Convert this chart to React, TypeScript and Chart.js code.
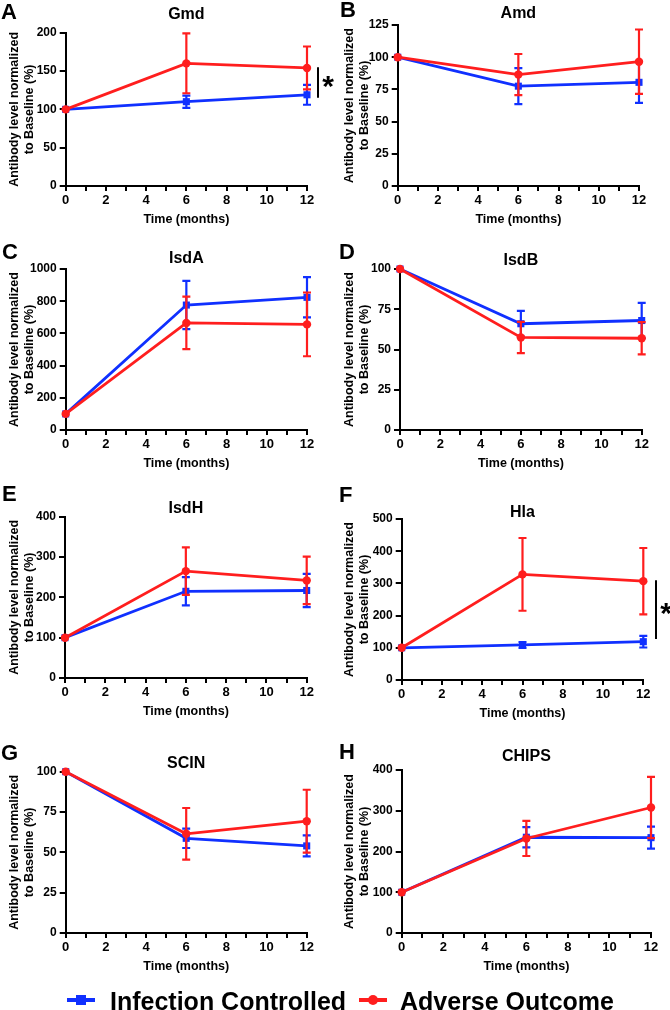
import React, { useEffect, useRef } from 'react';
import { Chart, registerables } from 'chart.js';

Chart.register(...registerables);

const BLUE = '#1030ff';
const RED = '#ff1e1e';
const FONT = '"Liberation Sans", Arial, Helvetica, sans-serif';

const seriesNames = ['Infection Controlled', 'Adverse Outcome'];
const monthPoints = [0, 6, 12];
const monthTicks = [0, 1, 2, 3, 4, 5, 6, 7, 8, 9, 10, 11, 12];
const yAxisTitle = ['Antibody level normalized', 'to Baseline (%)'];
const xAxisTitle = 'Time (months)';

// A - Gmd
const gmdTicks = [0, 50, 100, 150, 200];
const gmdControlled = [100, 110, 119];
const gmdControlledSem = [0, 8, 13];
const gmdAdverse = [100, 160, 154];
const gmdAdverseSem = [0, 39, 28];
const gmdSignificance = [115, 155];

// B - Amd
const amdTicks = [0, 25, 50, 75, 100, 125];
const amdControlled = [100, 77.5, 80.5];
const amdControlledSem = [0, 14, 16];
const amdAdverse = [100, 86.5, 96.5];
const amdAdverseSem = [0, 16, 25];

// C - IsdA
const isdATicks = [0, 200, 400, 600, 800, 1000];
const isdAControlled = [100, 776, 824];
const isdAControlledSem = [0, 150, 125];
const isdAAdverse = [100, 665, 656];
const isdAAdverseSem = [0, 163, 198];

// D - IsdB
const isdBTicks = [0, 25, 50, 75, 100];
const isdBControlled = [100, 66, 68];
const isdBControlledSem = [0, 8, 11];
const isdBAdverse = [100, 57.5, 57];
const isdBAdverseSem = [0, 9.7, 10];

// E - IsdH
const isdHTicks = [0, 100, 200, 300, 400];
const isdHControlled = [100, 215, 217];
const isdHControlledSem = [0, 35, 41];
const isdHAdverse = [100, 265, 242];
const isdHAdverseSem = [0, 59, 59];

// F - Hla
const hlaTicks = [0, 100, 200, 300, 400, 500];
const hlaControlled = [100, 109, 119];
const hlaControlledSem = [0, 9, 18];
const hlaAdverse = [100, 328, 307];
const hlaAdverseSem = [0, 113, 103];
const hlaSignificance = [127, 310];

// G - SCIN
const scinTicks = [0, 25, 50, 75, 100];
const scinControlled = [100, 58.7, 54];
const scinControlledSem = [0, 6, 6.5];
const scinAdverse = [100, 61.5, 69.3];
const scinAdverseSem = [0, 16, 19.5];

// H - CHIPS
const chipsTicks = [0, 100, 200, 300, 400];
const chipsControlled = [100, 235, 234];
const chipsControlledSem = [0, 25, 27];
const chipsAdverse = [100, 232, 308];
const chipsAdverseSem = [0, 43, 75];

type PanelDef = {
  letter: string; title: string; yTicks: number[];
  ctrl: number[]; ctrlSem: number[]; adv: number[]; advSem: number[];
  sig?: number[];
  x: number; y: number; left: number; right: number; top: number; bottom: number;
  titleY: number; letterX: number; letterY: number; sigOffset?: number;
};

const panels: PanelDef[] = [
  { letter: 'A', title: 'Gmd', yTicks: gmdTicks, ctrl: gmdControlled, ctrlSem: gmdControlledSem, adv: gmdAdverse, advSem: gmdAdverseSem, sig: gmdSignificance,
    x: 0, y: 0, left: 65.7, right: 307, top: 32.7, bottom: 186, titleY: 15, letterX: 1, letterY: 18.5, sigOffset: 11 },
  { letter: 'B', title: 'Amd', yTicks: amdTicks, ctrl: amdControlled, ctrlSem: amdControlledSem, adv: amdAdverse, advSem: amdAdverseSem,
    x: 335, y: 0, left: 62.7, right: 304, top: 25, bottom: 186, titleY: 13.5, letterX: 5, letterY: 17, },
  { letter: 'C', title: 'IsdA', yTicks: isdATicks, ctrl: isdAControlled, ctrlSem: isdAControlledSem, adv: isdAAdverse, advSem: isdAAdverseSem,
    x: 0, y: 240, left: 65.7, right: 307, top: 29, bottom: 190, titleY: 18.3, letterX: 2, letterY: 18.5 },
  { letter: 'D', title: 'IsdB', yTicks: isdBTicks, ctrl: isdBControlled, ctrlSem: isdBControlledSem, adv: isdBAdverse, advSem: isdBAdverseSem,
    x: 335, y: 240, left: 65, right: 306.7, top: 29, bottom: 190, titleY: 20.5, letterX: 4, letterY: 18.5 },
  { letter: 'E', title: 'IsdH', yTicks: isdHTicks, ctrl: isdHControlled, ctrlSem: isdHControlledSem, adv: isdHAdverse, advSem: isdHAdverseSem,
    x: 0, y: 480, left: 65, right: 306.7, top: 36.7, bottom: 197.3, titleY: 28.3, letterX: 2, letterY: 20.5 },
  { letter: 'F', title: 'Hla', yTicks: hlaTicks, ctrl: hlaControlled, ctrlSem: hlaControlledSem, adv: hlaAdverse, advSem: hlaAdverseSem, sig: hlaSignificance,
    x: 335, y: 480, left: 66.7, right: 308.3, top: 39, bottom: 200, titleY: 32.3, letterX: 4, letterY: 21.5, sigOffset: 12.7 },
  { letter: 'G', title: 'SCIN', yTicks: scinTicks, ctrl: scinControlled, ctrlSem: scinControlledSem, adv: scinAdverse, advSem: scinAdverseSem,
    x: 0, y: 720, left: 65.7, right: 306.7, top: 51.7, bottom: 212.3, titleY: 43.3, letterX: 1, letterY: 39.5 },
  { letter: 'H', title: 'CHIPS', yTicks: chipsTicks, ctrl: chipsControlled, ctrlSem: chipsControlledSem, adv: chipsAdverse, advSem: chipsAdverseSem,
    x: 335, y: 720, left: 66.7, right: 316, top: 50, bottom: 212.3, titleY: 36.7, letterX: 4, letterY: 38.5 },
];

const PANEL_W = 335;
const XAXIS_H = 42;

function Panel({ p }: { p: PanelDef }) {
  const ref = useRef<HTMLCanvasElement>(null);
  const height = Math.ceil(p.bottom + XAXIS_H);

  useEffect(() => {
    const canvas = ref.current;
    if (!canvas) return;
    const sems = [p.advSem, p.ctrlSem];

    const decor = {
      id: 'decor',
      afterDatasetDraw(chart: any, args: any) {
        const ds = chart.data.datasets[args.index];
        const sem = sems[args.index];
        const xs = chart.scales.x;
        const ys = chart.scales.y;
        const ctx = chart.ctx;
        ctx.save();
        ctx.strokeStyle = ds.borderColor;
        ctx.lineWidth = 2.2;
        ds.data.forEach((pt: any, i: number) => {
          const e = sem[i];
          if (!e) return;
          const x = xs.getPixelForValue(pt.x);
          const y1 = ys.getPixelForValue(pt.y + e);
          const y2 = ys.getPixelForValue(pt.y - e);
          ctx.beginPath();
          ctx.moveTo(x, y1); ctx.lineTo(x, y2);
          ctx.moveTo(x - 4, y1); ctx.lineTo(x + 4, y1);
          ctx.moveTo(x - 4, y2); ctx.lineTo(x + 4, y2);
          ctx.stroke();
        });
        ctx.restore();
      },
      afterDraw(chart: any) {
        const ctx = chart.ctx;
        const ca = chart.chartArea;
        ctx.save();
        ctx.fillStyle = '#000';
        ctx.font = `bold 16px ${FONT}`;
        ctx.textAlign = 'center';
        ctx.textBaseline = 'middle';
        ctx.fillText(p.title, (ca.left + ca.right) / 2, p.titleY);
        ctx.font = `bold 22px ${FONT}`;
        ctx.textAlign = 'left';
        ctx.textBaseline = 'alphabetic';
        ctx.fillText(p.letter, p.letterX, p.letterY);
        if (p.sig) {
          const ys = chart.scales.y;
          const x = ca.right + (p.sigOffset || 11);
          const y1 = ys.getPixelForValue(p.sig[0]);
          const y2 = ys.getPixelForValue(p.sig[1]);
          ctx.strokeStyle = '#000';
          ctx.lineWidth = 2;
          ctx.beginPath();
          ctx.moveTo(x, y1); ctx.lineTo(x, y2);
          ctx.stroke();
          ctx.font = `bold 30px ${FONT}`;
          ctx.textAlign = 'center';
          ctx.fillText('*', x + 10, (y1 + y2) / 2 + 13);
        }
        ctx.restore();
      },
    };

    const yMax = p.yTicks[p.yTicks.length - 1];
    const chart = new Chart(canvas, {
      type: 'line',
      data: {
        datasets: [
          {
            label: seriesNames[1],
            data: monthPoints.map((m, i) => ({ x: m, y: p.adv[i] })),
            borderColor: RED, backgroundColor: RED,
            borderWidth: 2.8, pointStyle: 'circle', pointRadius: 4.2, pointBorderWidth: 0,
            tension: 0, clip: false, order: 0,
          },
          {
            label: seriesNames[0],
            data: monthPoints.map((m, i) => ({ x: m, y: p.ctrl[i] })),
            borderColor: BLUE, backgroundColor: BLUE,
            borderWidth: 2.8, pointStyle: 'rect', pointRadius: 5, pointBorderWidth: 0,
            tension: 0, clip: false, order: 1,
          },
        ],
      },
      options: {
        responsive: false,
        animation: false,
        devicePixelRatio: 1,
        events: [],
        layout: { padding: { left: 0, top: p.top, right: PANEL_W - p.right, bottom: 0 } },
        plugins: { legend: { display: false }, title: { display: false }, tooltip: { enabled: false } },
        scales: {
          x: {
            type: 'linear', min: 0, max: 12,
            afterBuildTicks: (s: any) => { s.ticks = monthTicks.map((v) => ({ value: v })); },
            afterFit: (s: any) => { s.height = XAXIS_H; },
            ticks: {
              autoSkip: false, maxRotation: 0, color: '#000', padding: 2,
              font: { family: FONT, size: 13, weight: 'bold' },
              callback: (v: any) => (Number(v) % 2 === 0 ? String(v) : ''),
            },
            grid: { display: true, drawOnChartArea: false, drawTicks: true, tickLength: 5, color: '#000', lineWidth: 2 },
            border: { display: true, color: '#000', width: 2 },
            title: { display: true, text: xAxisTitle, color: '#000', font: { family: FONT, size: 12.5, weight: 'bold', lineHeight: 1.2 }, padding: { top: 0, bottom: 0.5 } },
          },
          y: {
            type: 'linear', min: 0, max: yMax,
            afterBuildTicks: (s: any) => { s.ticks = p.yTicks.map((v) => ({ value: v })); },
            afterFit: (s: any) => { s.width = p.left; },
            ticks: {
              color: '#000', padding: 3, font: { family: FONT, size: 12, weight: 'bold' },
              callback: (v: any) => String(v),
            },
            grid: { display: true, drawOnChartArea: false, drawTicks: true, tickLength: 6, color: '#000', lineWidth: 2 },
            border: { display: true, color: '#000', width: 2 },
            title: { display: true, text: yAxisTitle, color: '#000', font: { family: FONT, size: 12.5, weight: 'bold', lineHeight: 1.2 }, padding: { top: 7.5, bottom: 0 } },
          },
        },
      } as any,
      plugins: [decor],
    });
    return () => chart.destroy();
  }, []);

  return (
    <canvas
      ref={ref}
      width={PANEL_W}
      height={height}
      style={{ position: 'absolute', left: p.x, top: p.y, width: PANEL_W, height }}
    />
  );
}

function LegendMarker({ color, shape, left }: { color: string; shape: 'rect' | 'circle'; left: number }) {
  return (
    <div style={{ position: 'absolute', left, top: 995, width: 28, height: 10 }}>
      <div style={{ position: 'absolute', left: 0, top: 3, width: 28, height: 4, background: color }} />
      <div style={{ position: 'absolute', left: 9, top: 0, width: 10, height: 10, background: color, borderRadius: shape === 'circle' ? '50%' : 0 }} />
    </div>
  );
}

export default function App() {
  return (
    <div style={{ position: 'absolute', left: 0, top: 0, width: 670, height: 1010, background: '#fff', overflow: 'hidden' }}>
      {panels.map((p) => <Panel key={p.letter} p={p} />)}
      <LegendMarker color={BLUE} shape="rect" left={67} />
      <LegendMarker color={RED} shape="circle" left={359} />
      <div style={{ position: 'absolute', left: 110, top: 988.5, height: 25, lineHeight: '25px', fontFamily: FONT, fontWeight: 'bold', fontSize: 25, color: '#000', whiteSpace: 'nowrap' }}>
        {seriesNames[0]}
      </div>
      <div style={{ position: 'absolute', left: 400, top: 988.5, height: 25, lineHeight: '25px', fontFamily: FONT, fontWeight: 'bold', fontSize: 25, color: '#000', whiteSpace: 'nowrap' }}>
        {seriesNames[1]}
      </div>
    </div>
  );
}
